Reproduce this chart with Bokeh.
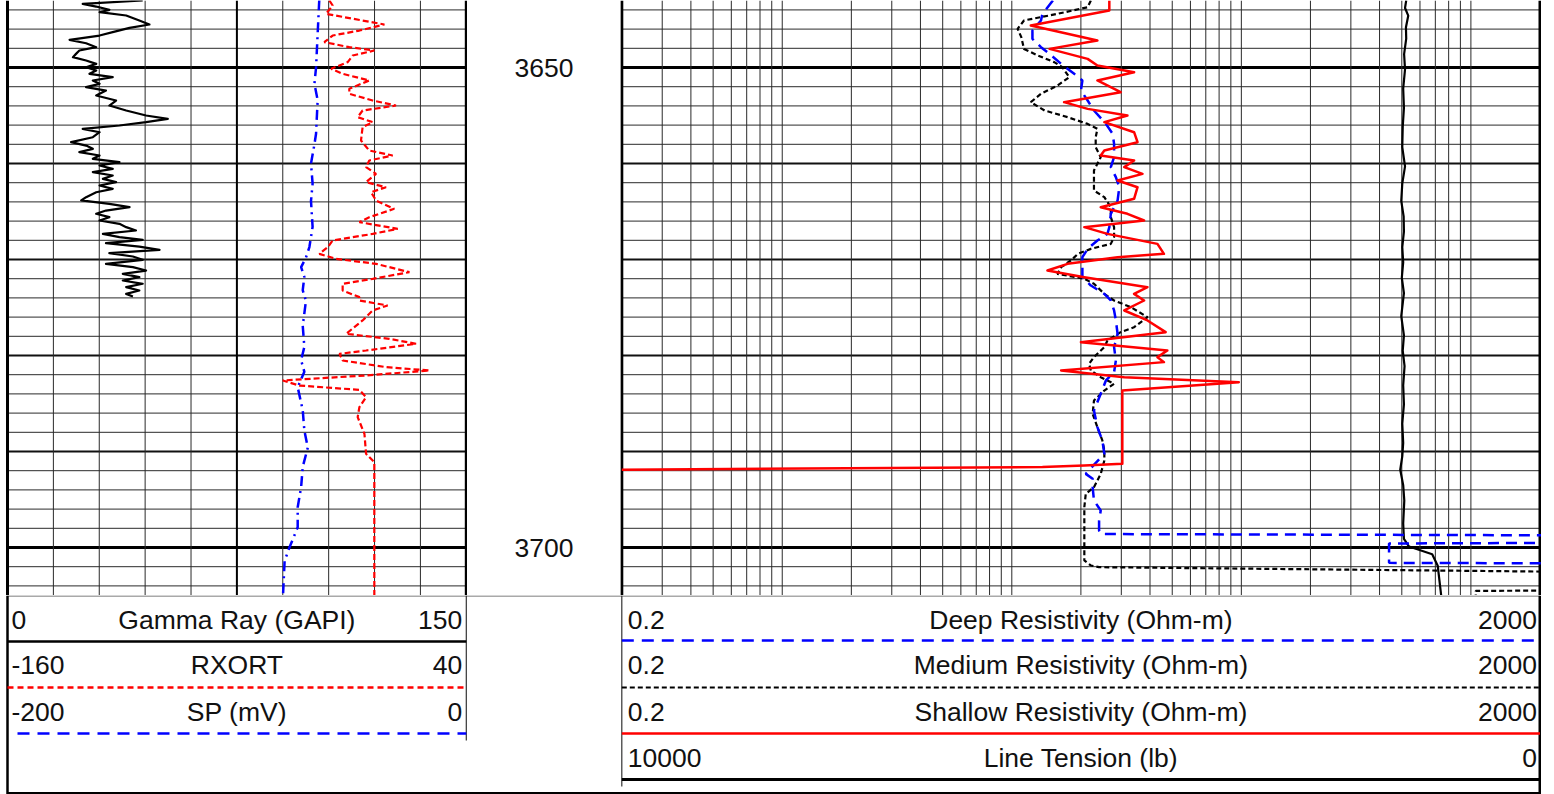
import numpy as np
from bokeh.plotting import figure
from bokeh.layouts import column, row
from bokeh.models import Range1d, LinearScale
from bokeh.core.properties import value
from bokeh.embed import file_html
from bokeh.resources import INLINE

# ---------------- data (depth in ft) ----------------
gr_depth = [3643.02, 3643.37, 3643.65, 3643.99, 3644.24, 3644.58, 3645.10, 3645.52, 3645.87, 3646.32,
            3646.67, 3647.12, 3647.47, 3647.88, 3648.23, 3648.58, 3648.92, 3649.27, 3649.62, 3649.97,
            3650.31, 3650.66, 3651.01, 3651.35, 3651.70, 3652.05, 3652.40, 3652.92, 3653.44, 3653.96,
            3654.48, 3655.00, 3655.35, 3655.69, 3656.04, 3656.39, 3656.74, 3657.26, 3657.78, 3658.13,
            3658.47, 3658.82, 3659.17, 3659.51, 3659.86, 3660.21, 3660.56, 3660.90, 3661.25, 3661.60,
            3661.94, 3662.29, 3662.64, 3662.99, 3663.51, 3663.85, 3664.20, 3664.55, 3664.90, 3665.24,
            3665.59, 3665.94, 3666.28, 3666.63, 3666.98, 3667.33, 3667.67, 3667.95, 3668.30, 3668.65,
            3668.99, 3669.34, 3669.69, 3670.03, 3670.45, 3670.80, 3671.15, 3671.49, 3671.84, 3672.19,
            3672.53, 3672.88, 3673.23, 3673.58, 3673.85]
gr = [44.2, 24.6, 29.0, 33.3, 30.1, 38.8, 43.1, 46.4, 39.9, 34.4,
      30.1, 20.3, 25.7, 29.0, 23.5, 22.4, 21.4, 25.7, 29.0, 25.7,
      29.0, 26.8, 34.4, 27.9, 30.1, 25.7, 32.2, 29.0, 35.5, 33.3,
      38.8, 45.3, 52.4, 45.3, 36.6, 24.6, 30.1, 27.9, 20.8, 25.7,
      27.9, 23.5, 30.1, 27.9, 36.6, 30.1, 34.4, 27.9, 34.4, 31.2,
      35.5, 30.1, 34.4, 29.0, 25.7, 24.1, 33.3, 39.9, 32.2, 29.0,
      33.3, 30.1, 36.6, 38.8, 42.0, 31.2, 36.6, 44.2, 32.2, 43.1,
      49.7, 33.3, 41.0, 44.2, 32.2, 41.0, 45.3, 37.7, 43.1, 37.7,
      44.2, 38.8, 43.1, 38.8, 41.0]

sp_depth = [3643.0, 3646.5, 3650.0, 3651.7, 3653.4, 3656.9, 3658.0, 3660.0, 3662.1, 3663.9,
            3666.6, 3668.7, 3669.8, 3670.8, 3671.8, 3673.2, 3674.3, 3676.9, 3679.1, 3680.5,
            3681.7, 3683.3, 3685.7, 3687.8, 3689.6, 3691.6, 3693.7, 3695.8, 3697.9, 3700.0,
            3701.4, 3705.5]
sp = [-64.1, -64.8, -65.5, -66.2, -64.8, -65.5, -66.2, -67.7, -67.0, -67.7,
      -67.0, -68.4, -69.9, -72.0, -70.6, -71.3, -69.9, -71.3, -70.6, -72.0,
      -70.6, -73.5, -71.3, -70.6, -69.1, -71.3, -72.0, -73.5, -73.5, -77.1,
      -79.2, -80.0]

rx_depth = [3643.02, 3643.54, 3644.41, 3645.52, 3646.15, 3646.67, 3647.36, 3647.88, 3648.23, 3648.75,
            3649.44, 3650.14, 3650.66, 3651.35, 3652.22, 3652.74, 3653.44, 3653.96, 3654.48, 3655.17,
            3655.69, 3656.22, 3657.60, 3658.65, 3659.17, 3659.69, 3660.38, 3661.08, 3661.94, 3662.47,
            3662.99, 3663.85, 3664.72, 3665.59, 3666.11, 3666.81, 3667.33, 3668.02, 3668.72, 3669.41,
            3669.93, 3670.45, 3671.32, 3672.01, 3672.53, 3673.23, 3673.92, 3674.27, 3674.79, 3675.31,
            3676.35, 3677.74, 3678.26, 3678.78, 3679.48, 3679.83, 3680.52, 3681.21, 3681.56, 3682.08,
            3682.60, 3683.13, 3683.58, 3684.34, 3685.38, 3686.42, 3688.16, 3690.24, 3691.11, 3705.5]
rxort = [-19.7, -18.25, -21.15, 4.3, -6.6, -18.25, -21.9, -11.0, -0.1, -9.5,
         -11.7, -18.9, -13.9, -2.3, -11.0, -11.0, -0.8, 9.35, -5.2, -7.35,
         -0.8, -5.2, -5.9, -2.3, 7.9, -2.3, -3.7, 0.65, -3.7, 5.0,
         -1.5, 0.65, 8.6, -2.3, -6.6, 10.1, -0.8, -18.25, -20.4, -24.05,
         -16.8, 0.65, 15.2, -0.8, -13.9, -13.9, -6.6, -6.6, 5.7, -0.8,
         -5.2, -12.4, 6.4, 18.1, -3.7, -15.3, -13.9, 5.0, 23.9, -3.7,
         -40.0, -32.8, -6.6, -3.7, -6.6, -7.35, -4.4, -3.7, -0.1, -0.1]

deep_depth = [3643.02, 3644.41, 3645.10, 3646.15, 3647.01, 3647.88, 3648.58, 3649.62, 3650.66, 3651.35,
              3652.40, 3653.44, 3654.48, 3655.87, 3656.91, 3657.95, 3659.34, 3660.38, 3661.42, 3662.47,
              3663.85, 3665.24, 3666.63, 3667.33, 3668.02, 3668.89, 3669.76, 3670.80, 3671.84, 3672.71,
              3673.58, 3674.27, 3675.31, 3676.35, 3677.74, 3679.13, 3680.52, 3681.74, 3682.60, 3683.99,
              3685.73, 3687.46, 3688.85, 3690.24, 3691.28, 3692.33, 3692.85, 3693.72, 3695.10, 3696.15,
              3697.19, 3698.23, 3698.60, 3698.75, 3699.50, 3699.58, 3701.60, 3701.67, 3705.5]
deep = [15.1, 13.6, 13.4, 12.3, 12.3, 13.4, 14.6, 16.4, 18.7, 20.3,
        20.0, 21.4, 22.8, 25.7, 27.5, 27.9, 27.9, 27.0, 28.4, 29.4,
        28.9, 27.0, 26.6, 26.1, 23.6, 21.4, 20.3, 20.3, 20.3, 22.1,
        25.3, 27.0, 27.9, 28.4, 28.9, 27.9, 28.4, 27.9, 25.7, 24.4,
        22.8, 23.6, 24.8, 25.3, 23.0, 21.0, 22.5, 22.5, 22.8, 24.4,
        24.0, 24.0, 24.5, 5000, 5000, 440, 440, 5000, 5000]

med_depth = [3643.02, 3643.72, 3644.41, 3645.10, 3645.97, 3646.84, 3648.06, 3648.75, 3649.44, 3649.97,
             3651.01, 3651.88, 3652.74, 3653.61, 3654.48, 3655.17, 3655.87, 3656.39, 3657.26, 3658.30,
             3659.34, 3660.73, 3661.77, 3662.81, 3663.51, 3664.55, 3665.59, 3666.63, 3667.67, 3668.37,
             3668.89, 3669.41, 3670.10, 3670.80, 3671.49, 3672.01, 3672.53, 3673.58, 3674.27, 3674.96,
             3676.01, 3677.05, 3677.57, 3678.44, 3679.13, 3680.17, 3680.87, 3681.56, 3682.26, 3682.95,
             3683.65, 3684.69, 3686.08, 3687.46, 3688.85, 3689.90, 3690.94, 3692.33, 3693.72, 3694.41,
             3695.80, 3698.58, 3701.35, 3701.87, 3702.05, 3702.60, 3704.45, 3704.52, 3705.5]
medium = [22.1, 21.4, 15.8, 11.3, 10.6, 11.0, 11.3, 13.0, 15.3, 16.6,
          17.8, 15.8, 13.4, 12.1, 13.9, 17.5, 21.4, 23.6, 23.2, 23.2,
          24.4, 22.8, 22.8, 22.8, 25.3, 27.0, 27.0, 27.9, 27.9, 27.0,
          22.1, 19.4, 18.1, 16.4, 15.8, 20.7, 22.8, 25.3, 27.9, 33.0,
          39.0, 34.1, 29.8, 26.1, 25.3, 22.8, 21.7, 22.1, 24.4, 27.9,
          25.3, 22.8, 22.5, 23.6, 24.8, 25.3, 25.3, 24.4, 22.8, 21.0,
          20.7, 20.7, 20.7, 22.1, 24.0, 5000, 5000, 1050, 1050]

sh_depth = [3643.02, 3644.06, 3645.63, 3647.19, 3648.06, 3649.10, 3649.79, 3650.49, 3651.35, 3652.57,
            3653.61, 3654.31, 3655.00, 3655.69, 3656.74, 3657.78, 3658.65, 3659.17, 3659.69, 3660.38,
            3661.08, 3661.77, 3662.47, 3663.68, 3664.55, 3665.24, 3665.94, 3666.63, 3667.33, 3668.37,
            3669.41, 3669.76, 3670.45, 3671.15, 3671.84, 3672.88, 3673.58, 3674.27, 3675.31, 3676.35,
            3677.57, 3678.61, 3679.48, 3680.17, 3680.69, 3681.56, 3682.26, 3682.78, 3683.65, 3691.28,
            3691.46, 3691.62, 3691.90]
shallow = [26.6, 26.6, 12.1, 23.6, 14.6, 21.4, 23.6, 34.1, 23.6, 29.8,
           16.9, 21.4, 31.9, 25.3, 34.1, 35.3, 25.3, 24.4, 34.1, 30.9,
           37.1, 28.9, 35.3, 34.1, 24.4, 31.9, 37.7, 20.7, 26.1, 43.1,
           46.0, 28.9, 17.5, 14.3, 20.7, 39.0, 34.1, 37.7, 30.9, 39.0,
           46.8, 20.0, 47.6, 43.1, 46.0, 16.4, 30.9, 97.5, 30.3, 30.3,
           20.7, 13.6, 0.2]

ten_depth = [3643.0, 3643.8, 3644.6, 3645.8, 3647.0, 3648.6, 3650.2, 3652.2, 3654.2, 3656.2,
             3658.3, 3660.3, 3662.1, 3663.9, 3665.5, 3667.1, 3668.7, 3670.3, 3671.9, 3673.5,
             3675.9, 3677.9, 3679.5, 3681.1, 3683.1, 3685.1, 3687.1, 3689.1, 3690.5, 3691.9,
             3693.5, 3695.1, 3697.5, 3699.1, 3699.9, 3700.7, 3701.9, 3705.5]
tension = [1457, 1470, 1435, 1460, 1457, 1480, 1470, 1490, 1482, 1495,
           1500, 1470, 1500, 1511, 1485, 1482, 1500, 1490, 1505, 1482,
           1511, 1482, 1495, 1475, 1490, 1482, 1500, 1490, 1500, 1522,
           1490, 1478, 1490, 1482, 1426, 1174, 1114, 1070]

# track scales and header labels
gr_scale = (0, 150)
rx_scale = (-160, 40)
sp_scale = (-200, 0)
res_scale = (0.2, 2000)
ten_scale = (10000, 0)
left_names = ["Gamma Ray (GAPI)", "RXORT", "SP (mV)"]
left_lo = ["0", "-160", "-200"]
left_hi = ["150", "40", "0"]
right_names = ["Deep Resistivity (Ohm-m)", "Medium Resistivity (Ohm-m)",
               "Shallow Resistivity (Ohm-m)", "Line Tension (lb)"]
right_lo = ["0.2", "0.2", "0.2", "10000"]
right_hi = ["2000", "2000", "2000", "0"]
depth_labels = [3650, 3700]

# ---------------- layout constants ----------------
DEPTH_TOP, DEPTH_BOT = 3643.02, 3705.0
TRACK_H = 595
LEFT_W, DEPTH_W, RIGHT_W = 467, 153, 921
TOTAL_W = LEFT_W + DEPTH_W + RIGHT_W
HDR_H = 199
LEFT_PX = (7.0, 465.8)      # pixel span of the left-track scale inside its figure
RIGHT_PX = (1.3, 919.5)     # pixel span of the right-track scale inside its figure
FONT = value("Liberation Sans")
FS = "26.5px"
BLUE = "#0000ff"
RED = "#ff0000"
GRIDC = "#2a2a2a"
TXT = "#111111"


def px_range(lo, hi, width, span):
    a, b = span
    s = (hi - lo) / (b - a)
    start = lo - a * s
    return Range1d(start, start + width * s)


def px_log_range(lo, hi, width, span):
    a, b = span
    llo, lhi = np.log10(lo), np.log10(hi)
    s = (lhi - llo) / (b - a)
    start = llo - a * s
    return Range1d(10 ** start, 10 ** (start + width * s))


def make_fig(width, height, x_range, y_range, x_axis_type="linear"):
    p = figure(width=width, height=height, x_range=x_range, y_range=y_range,
               x_axis_type=x_axis_type, x_axis_location=None, y_axis_location=None,
               min_border=0, toolbar_location=None, tools="", output_backend="svg")
    p.xgrid.grid_line_color = None
    p.ygrid.grid_line_color = None
    p.outline_line_color = None
    p.background_fill_color = "white"
    p.border_fill_color = "white"
    return p


minor_d = [d for d in range(3644, 3705, 2) if d % 10 != 0]
ten_d = [d for d in range(3650, 3705, 10) if d % 50 != 0]
fifty_d = [d for d in range(3650, 3705, 10) if d % 50 == 0]


def depth_grid(p, x0, x1):
    p.segment(x0=x0, x1=x1, y0=minor_d, y1=minor_d, line_color=GRIDC, line_width=1)
    p.segment(x0=x0, x1=x1, y0=ten_d, y1=ten_d, line_color="#111111", line_width=2)
    p.segment(x0=x0, x1=x1, y0=fifty_d, y1=fifty_d, line_color="black", line_width=2.8)


# ---------------- left track ----------------
pl = make_fig(LEFT_W, TRACK_H, px_range(*gr_scale, LEFT_W, LEFT_PX), Range1d(DEPTH_BOT, DEPTH_TOP))
pl.extra_x_ranges = {"rx": px_range(*rx_scale, LEFT_W, LEFT_PX), "sp": px_range(*sp_scale, LEFT_W, LEFT_PX)}
pl.extra_x_scales = {"rx": LinearScale(), "sp": LinearScale()}
depth_grid(pl, gr_scale[0], gr_scale[1])
gr_ticks = list(np.linspace(gr_scale[0], gr_scale[1], 11))
inner = [t for t in gr_ticks[1:-1] if t != 75]
pl.segment(x0=inner, x1=inner, y0=DEPTH_TOP, y1=DEPTH_BOT, line_color=GRIDC, line_width=1)
pl.segment(x0=[75], x1=[75], y0=DEPTH_TOP, y1=DEPTH_BOT, line_color="black", line_width=2)
pl.segment(x0=[gr_scale[0], gr_scale[1]], x1=[gr_scale[0], gr_scale[1]],
           y0=DEPTH_TOP, y1=DEPTH_BOT, line_color="black", line_width=3)
pl.line(sp, sp_depth, x_range_name="sp", line_color=BLUE, line_width=2.5, line_dash="10 5 2 5")
pl.line(rxort, rx_depth, x_range_name="rx", line_color=RED, line_width=2.2, line_dash="6 3")
pl.line(gr, gr_depth, line_color="black", line_width=2.2, line_join="round")

# ---------------- depth track ----------------
pd_ = make_fig(DEPTH_W, TRACK_H, Range1d(0, 1), Range1d(DEPTH_BOT, DEPTH_TOP))
pd_.text(x=[0.5] * len(depth_labels), y=depth_labels, text=[str(d) for d in depth_labels],
         text_font=FONT, text_font_size=FS, text_align="center", text_baseline="middle",
         text_color=TXT)

# ---------------- right track ----------------
pr = make_fig(RIGHT_W, TRACK_H, px_log_range(*res_scale, RIGHT_W, RIGHT_PX),
              Range1d(DEPTH_BOT, DEPTH_TOP), x_axis_type="log")
pr.extra_x_ranges = {"ten": px_range(*ten_scale, RIGHT_W, RIGHT_PX)}
pr.extra_x_scales = {"ten": LinearScale()}
depth_grid(pr, res_scale[0], res_scale[1])
res_ticks = [k * 10.0 ** n for n in range(-1, 4) for k in range(1, 10)
             if res_scale[0] * 1.0001 < k * 10.0 ** n < res_scale[1] * 0.9999]
pr.segment(x0=res_ticks, x1=res_ticks, y0=DEPTH_TOP, y1=DEPTH_BOT, line_color=GRIDC, line_width=1)
pr.segment(x0=list(res_scale), x1=list(res_scale), y0=DEPTH_TOP, y1=DEPTH_BOT,
           line_color="black", line_width=3)
pr.line(tension, ten_depth, x_range_name="ten", line_color="black", line_width=2.2, line_join="round")
pr.line(medium, med_depth, line_color="black", line_width=2.2, line_dash="5 3")
pr.line(deep, deep_depth, line_color=BLUE, line_width=2.5, line_dash="11 7")
pr.line(shallow, sh_depth, line_color=RED, line_width=2.5, line_join="round")

# ---------------- header ----------------
ph = make_fig(TOTAL_W, HDR_H, Range1d(0, TOTAL_W), Range1d(HDR_H, 0))
L0, L1 = LEFT_PX[0], LEFT_PX[1]
R0, R1 = LEFT_W + DEPTH_W + RIGHT_PX[0], LEFT_W + DEPTH_W + RIGHT_PX[1]
row_y = [24, 69, 116, 162]
line_y = [46, 92, 138, 184]
BOT = HDR_H - 1.5

# frame and separators
ph.segment(x0=[L0], x1=[R1], y0=[0.5], y1=[0.5], line_color="#555555", line_width=1)
ph.segment(x0=[L0], x1=[L0], y0=[0], y1=[HDR_H], line_color="black", line_width=2.5)
ph.segment(x0=[R1], x1=[R1], y0=[0], y1=[HDR_H], line_color="black", line_width=3)
ph.segment(x0=[L0], x1=[R1], y0=[BOT], y1=[BOT], line_color="black", line_width=2)
ph.segment(x0=[L1], x1=[L1], y0=[0], y1=[line_y[2] + 7], line_color="#333333", line_width=1.2)
ph.segment(x0=[R0], x1=[R0], y0=[0], y1=[line_y[3] + 7], line_color="#333333", line_width=1.2)

# left legend lines
ph.segment(x0=[L0], x1=[L1], y0=[line_y[0]], y1=[line_y[0]], line_color="black", line_width=2.5)
ph.segment(x0=[L0], x1=[L1], y0=[line_y[1]], y1=[line_y[1]], line_color=RED, line_width=2.5,
           line_dash="6 4")
ph.segment(x0=[L0 + 10], x1=[L1], y0=[line_y[2]], y1=[line_y[2]], line_color=BLUE, line_width=2.5,
           line_dash="12 8")
# right legend lines
ph.segment(x0=[R0], x1=[R1], y0=[line_y[0] - 1], y1=[line_y[0] - 1], line_color=BLUE, line_width=2.5,
           line_dash="12 8")
ph.segment(x0=[R0], x1=[R1], y0=[line_y[1]], y1=[line_y[1]], line_color="black", line_width=2,
           line_dash="5 3")
ph.segment(x0=[R0], x1=[R1], y0=[line_y[2]], y1=[line_y[2]], line_color=RED, line_width=2.5)
ph.segment(x0=[R0], x1=[R1], y0=[line_y[3]], y1=[line_y[3]], line_color="black", line_width=3)

ys_l = row_y[:3]
ph.text(x=[L0 + 4] * 3, y=ys_l, text=left_lo, text_font=FONT, text_font_size=FS,
        text_align="left", text_baseline="middle", text_color=TXT)
ph.text(x=[(L0 + L1) / 2] * 3, y=ys_l, text=left_names, text_font=FONT, text_font_size=FS,
        text_align="center", text_baseline="middle", text_color=TXT)
ph.text(x=[L1 - 4] * 3, y=ys_l, text=left_hi, text_font=FONT, text_font_size=FS,
        text_align="right", text_baseline="middle", text_color=TXT)
ph.text(x=[R0 + 6] * 4, y=row_y, text=right_lo, text_font=FONT, text_font_size=FS,
        text_align="left", text_baseline="middle", text_color=TXT)
ph.text(x=[(R0 + R1) / 2] * 4, y=row_y, text=right_names, text_font=FONT, text_font_size=FS,
        text_align="center", text_baseline="middle", text_color=TXT)
ph.text(x=[R1 - 3] * 4, y=row_y, text=right_hi, text_font=FONT, text_font_size=FS,
        text_align="right", text_baseline="middle", text_color=TXT)

layout = column(row(pl, pd_, pr, spacing=0), ph, spacing=0)
open("out.html", "w").write(file_html(layout, INLINE))
